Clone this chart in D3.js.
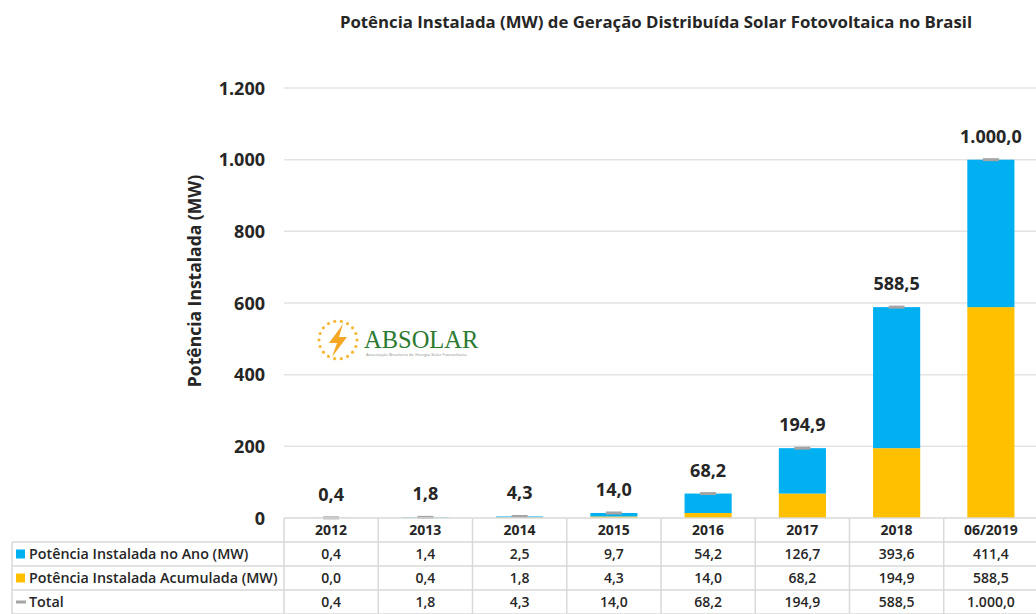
<!DOCTYPE html>
<html>
<head>
<meta charset="utf-8">
<script src="https://cdn.jsdelivr.net/npm/d3@7"></script>
<style>
  body { margin: 0; background: #fff; }
  text { font-family: "Open Sans", sans-serif; fill: #262626; }
</style>
</head>
<body>
<div id="chart"></div>
<script>
// data
const periods = ["2012", "2013", "2014", "2015", "2016", "2017", "2018", "06/2019"];
const noAno = [0.4, 1.4, 2.5, 9.7, 54.2, 126.7, 393.6, 411.4];
const acumulada = [0.0, 0.4, 1.8, 4.3, 14.0, 68.2, 194.9, 588.5];
const total = [0.4, 1.8, 4.3, 14.0, 68.2, 194.9, 588.5, 1000.0];
const yTicks = [0, 200, 400, 600, 800, 1000, 1200];

const seriesNames = {
    ano: "Potência Instalada no Ano (MW)",
    acumulada: "Potência Instalada Acumulada (MW)",
    total: "Total"
};
const colors = { ano: "#00b0f0", acumulada: "#ffc000", total: "#a5a5a5" };

const width = 1036, height = 614;
const plotLeft = 284, plotRight = 1038;
const rowH = 24, tableTop = 518;

const br = d3.formatLocale({ decimal: ",", thousands: ".", grouping: [3], currency: ["R$", ""] });
const fmt1 = br.format(",.1f");
const fmtTick = br.format(",d");

const rows = periods.map((p, i) => ({ period: p, ano: noAno[i], acumulada: acumulada[i], total: total[i] }));

const svg = d3.select("#chart").append("svg")
    .attr("width", width)
    .attr("height", height);

const x = d3.scaleBand()
    .domain(periods)
    .range([plotLeft, plotRight])
    .paddingInner(0.5)
    .paddingOuter(0.25);

const y = d3.scaleLinear()
    .domain([0, 1200])
    .range([tableTop, 88]);

// title
svg.append("text")
    .attr("x", 656)
    .attr("y", 28)
    .attr("text-anchor", "middle")
    .style("font-size", "16.8px")
    .style("font-weight", "bold")
    .text("Potência Instalada (MW) de Geração Distribuída Solar Fotovoltaica no Brasil");

// gridlines
svg.append("g")
    .selectAll("line")
    .data(yTicks.filter(d => d > 0))
    .enter().append("line")
    .attr("x1", plotLeft)
    .attr("x2", width)
    .attr("y1", d => y(d))
    .attr("y2", d => y(d))
    .attr("stroke", "#e3e3e3")
    .attr("stroke-width", 1.5);

// y axis labels
const yAxis = d3.axisLeft(y).tickValues(yTicks).tickFormat(fmtTick).tickSize(0).tickPadding(0);
const yG = svg.append("g")
    .attr("transform", `translate(265,0)`)
    .call(yAxis);
yG.select(".domain").remove();
yG.selectAll("text")
    .style("font-family", "'Open Sans', sans-serif")
    .style("font-size", "18px")
    .style("font-weight", "bold")
    .attr("fill", "#262626")
    .attr("dy", "0.35em");

svg.append("text")
    .attr("transform", "translate(201,281) rotate(-90)")
    .attr("text-anchor", "middle")
    .style("font-size", "17.5px")
    .style("font-weight", "bold")
    .text("Potência Instalada (MW)");

// stacked bars: accumulated at the bottom, yearly on top
const stack = d3.stack().keys(["acumulada", "ano"]);
const stacked = stack(rows);

svg.append("g")
    .selectAll("g")
    .data(stacked)
    .enter().append("g")
    .attr("fill", d => colors[d.key])
    .selectAll("rect")
    .data(d => d)
    .enter().append("rect")
    .attr("x", d => x(d.data.period))
    .attr("width", x.bandwidth())
    .attr("y", d => y(d[1]))
    .attr("height", d => y(d[0]) - y(d[1]));

// total markers
svg.append("g")
    .selectAll("line")
    .data(rows)
    .enter().append("line")
    .attr("x1", d => x(d.period) + x.bandwidth() / 2 - 8)
    .attr("x2", d => x(d.period) + x.bandwidth() / 2 + 8)
    .attr("y1", d => y(d.total))
    .attr("y2", d => y(d.total))
    .attr("stroke", colors.total)
    .attr("stroke-width", 3);

// total labels
svg.append("g")
    .selectAll("text")
    .data(rows)
    .enter().append("text")
    .attr("x", d => x(d.period) + x.bandwidth() / 2)
    .attr("y", d => y(d.total) - 17)
    .attr("text-anchor", "middle")
    .style("font-size", "18px")
    .style("font-weight", "bold")
    .text(d => fmt1(d.total));

// ABSOLAR logo
const logo = svg.append("g").attr("transform", "translate(338,340)");
logo.selectAll("circle")
    .data(d3.range(18))
    .enter().append("circle")
    .attr("cx", d => 19 * Math.cos(d / 18 * 2 * Math.PI))
    .attr("cy", d => 19 * Math.sin(d / 18 * 2 * Math.PI))
    .attr("r", 1.6)
    .attr("fill", "#f7b733");
logo.append("path")
    .attr("d", "M5,-16 L-9,3 L-1,3 L-6,17 L9,-3 L1,-3 Z")
    .attr("fill", "#f5a623");
svg.append("text")
    .attr("x", 364)
    .attr("y", 348)
    .style("font-family", "'Liberation Serif', serif")
    .style("font-size", "24.5px")
    .style("fill", "#2b7a30")
    .text("ABSOLAR");
svg.append("text")
    .attr("x", 366)
    .attr("y", 356)
    .style("font-size", "4.3px")
    .style("fill", "#8a8a8a")
    .text("Associação Brasileira de Energia Solar Fotovoltaica");

// data table
const table = svg.append("g");
const colEdges = periods.map(p => x(p) - x.step() * x.paddingInner() / 2);
colEdges.push(plotRight);
const grid = "#d9d9d9";

// horizontal lines
table.append("line")
    .attr("x1", plotLeft).attr("x2", plotRight)
    .attr("y1", tableTop).attr("y2", tableTop)
    .attr("stroke", grid).attr("stroke-width", 1.5);
[1, 2, 3, 4].forEach(r => {
    table.append("line")
        .attr("x1", 12).attr("x2", plotRight)
        .attr("y1", tableTop + r * rowH).attr("y2", tableTop + r * rowH)
        .attr("stroke", grid).attr("stroke-width", 1.5);
});
// vertical lines
table.selectAll(".vline")
    .data(colEdges)
    .enter().append("line")
    .attr("x1", d => d).attr("x2", d => d)
    .attr("y1", tableTop).attr("y2", height)
    .attr("stroke", grid).attr("stroke-width", 1.5);
table.append("line")
    .attr("x1", 12).attr("x2", 12)
    .attr("y1", tableTop + rowH).attr("y2", height)
    .attr("stroke", grid).attr("stroke-width", 1.5);

// header
table.selectAll(".head")
    .data(periods)
    .enter().append("text")
    .attr("x", d => x(d) + x.bandwidth() / 2)
    .attr("y", tableTop + rowH / 2 + 5)
    .attr("text-anchor", "middle")
    .style("font-size", "14px")
    .style("font-weight", "bold")
    .text(d => d);

const tableRows = [
    { key: "ano", values: noAno },
    { key: "acumulada", values: acumulada },
    { key: "total", values: total }
];

tableRows.forEach((r, ri) => {
    const cy = tableTop + (ri + 1) * rowH + rowH / 2;
    if (r.key === "total") {
        table.append("line")
            .attr("x1", 16).attr("x2", 26)
            .attr("y1", cy).attr("y2", cy)
            .attr("stroke", colors.total).attr("stroke-width", 3);
    } else {
        table.append("rect")
            .attr("x", 16).attr("y", cy - 4.5)
            .attr("width", 9).attr("height", 9)
            .attr("fill", colors[r.key]);
    }
    table.append("text")
        .attr("x", 29)
        .attr("y", cy + 5)
        .style("font-size", "14.3px")
        .style("font-weight", 600)
        .text(seriesNames[r.key]);
    table.selectAll(".v" + ri)
        .data(r.values)
        .enter().append("text")
        .attr("x", (d, i) => x(periods[i]) + x.bandwidth() / 2)
        .attr("y", cy + 5)
        .attr("text-anchor", "middle")
        .style("font-size", "14px")
        .style("font-weight", 600)
        .text(d => fmt1(d));
});
</script>
</body>
</html>
